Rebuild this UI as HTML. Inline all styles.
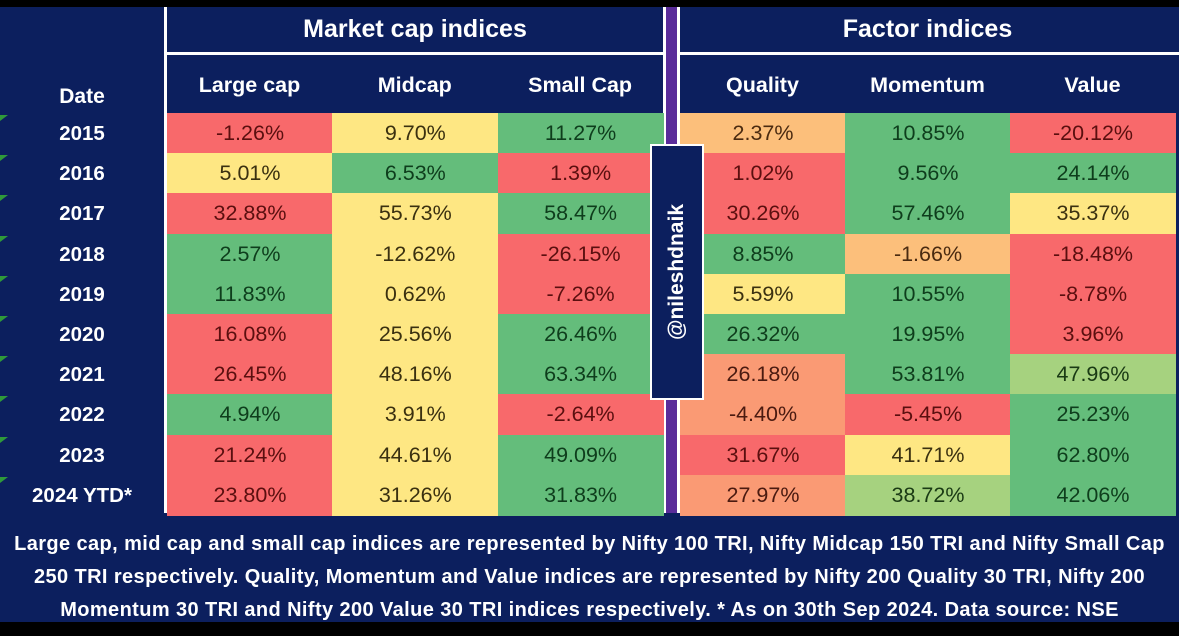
<!DOCTYPE html>
<html><head><meta charset="utf-8"><style>
body{margin:0;width:1179px;height:636px;background:#000;overflow:hidden;font-family:"Liberation Sans",sans-serif}
#wrap{position:absolute;left:0;top:7px;width:1179px;height:615px;background:#0c1f5e}
.h{position:absolute;color:#fff;font-weight:bold;display:flex;align-items:center;justify-content:center}
.c{position:absolute;display:flex;align-items:center;justify-content:center;font-size:21.5px;color:#2a1a10}
.line{position:absolute;background:#fff}
#foot{position:absolute;left:-20px;top:521px;width:1219px;text-align:center;color:#fff;font-size:20px;line-height:33px;font-weight:bold;letter-spacing:0.4px;white-space:nowrap}
#wm{position:absolute;left:650px;top:137px;width:54px;height:256px;background:#0c1f5e;border:2px solid #fff;box-sizing:border-box;display:flex;align-items:center;justify-content:center}
#wm span{transform:rotate(-90deg);color:#fff;font-weight:bold;font-size:21px;white-space:nowrap}
</style></head><body>
<div id="wrap">
<div class="line" style="left:164px;top:0;width:3px;height:506px"></div>
<div class="line" style="left:663px;top:0;width:3px;height:506px"></div>
<div class="line" style="left:677px;top:0;width:3px;height:506px"></div>
<div style="position:absolute;left:666px;top:0;width:11px;height:506px;background:#5a2c9a"></div>
<div class="line" style="left:167px;top:45px;width:496px;height:3px"></div>
<div class="line" style="left:680px;top:45px;width:499px;height:3px"></div>
<div class="h" style="left:167px;top:0;width:496px;height:45px;font-size:25px">Market cap indices</div>
<div class="h" style="left:680px;top:0;width:495px;height:45px;font-size:25px">Factor indices</div>
<div class="h" style="left:0;top:70px;width:164px;height:40px;font-size:21px">Date</div>
<div id="cells"></div>
<div id="wm"><span>@nileshdnaik</span></div>
<div id="foot">Large cap, mid cap and small cap indices are represented by Nifty 100 TRI, Nifty Midcap 150 TRI and Nifty Small Cap<br>250 TRI respectively. Quality, Momentum and Value indices are represented by Nifty 200 Quality 30 TRI, Nifty 200<br>Momentum 30 TRI and Nifty 200 Value 30 TRI indices respectively. * As on 30th Sep 2024. Data source: NSE</div>
</div>
<script>
const years=["2015","2016","2017","2018","2019","2020","2021","2022","2023","2024 YTD*"];
const columns=["Large cap","Midcap","Small Cap","Quality","Momentum","Value"];
const largeCap=["-1.26%","5.01%","32.88%","2.57%","11.83%","16.08%","26.45%","4.94%","21.24%","23.80%"];
const midCap=["9.70%","6.53%","55.73%","-12.62%","0.62%","25.56%","48.16%","3.91%","44.61%","31.26%"];
const smallCap=["11.27%","1.39%","58.47%","-26.15%","-7.26%","26.46%","63.34%","-2.64%","49.09%","31.83%"];
const quality=["2.37%","1.02%","30.26%","8.85%","5.59%","26.32%","26.18%","-4.40%","31.67%","27.97%"];
const momentum=["10.85%","9.56%","57.46%","-1.66%","10.55%","19.95%","53.81%","-5.45%","41.71%","38.72%"];
const value=["-20.12%","24.14%","35.37%","-18.48%","-8.78%","3.96%","47.96%","25.23%","62.80%","42.06%"];
const colorsLarge="RYRGGRRGRR",colorsMid="YGYYYYYYYY",colorsSmall="GRGRRGGRGG",colorsQ="PRRGYGOORO",colorsM="GGGPGGGRYL",colorsV="RGYRRRLGGG";
const fill={R:"#f8696b",Y:"#fee783",G:"#64bd7b",O:"#fa9a74",L:"#a6d27f",P:"#fcbf7b"};
const ink={R:"#5a0f0f",Y:"#3a3010",G:"#0e3d1c",O:"#4a1a10",L:"#1a3a14",P:"#4a2a10"};
const series=[largeCap,midCap,smallCap,quality,momentum,value];
const cmaps=[colorsLarge,colorsMid,colorsSmall,colorsQ,colorsM,colorsV];
const colX=i=>i<3?167+i*165.3:680+(i-3)*165;
const rowY=r=>106+r*40.2;
const host=document.getElementById('cells');
columns.forEach((c,i)=>{const d=document.createElement('div');d.className='h';


d.style.cssText=`left:${colX(i)}px;top:50px;width:165px;height:56px;font-size:21.5px`;d.textContent=c;host.appendChild(d);});
years.forEach((y,r)=>{const d=document.createElement('div');d.className='h';


d.style.cssText=`left:0;top:${rowY(r)+1}px;width:164px;height:40px;font-size:20.5px`;d.textContent=y;host.appendChild(d);
const t=document.createElement('div');t.style.cssText=`position:absolute;left:0;top:${rowY(r)+2}px;width:0;height:0;border-top:6px solid #2f9a3a;border-right:8px solid transparent`;host.appendChild(t);
series.forEach((s,i)=>{const k=cmaps[i][r];const e=document.createElement('div');e.className='c';


e.style.cssText=`left:${colX(i)}px;top:${rowY(r)}px;width:166px;height:41px;background:${fill[k]};color:${ink[k]}`;e.textContent=s[r];host.appendChild(e);});});
</script>
</body></html>
